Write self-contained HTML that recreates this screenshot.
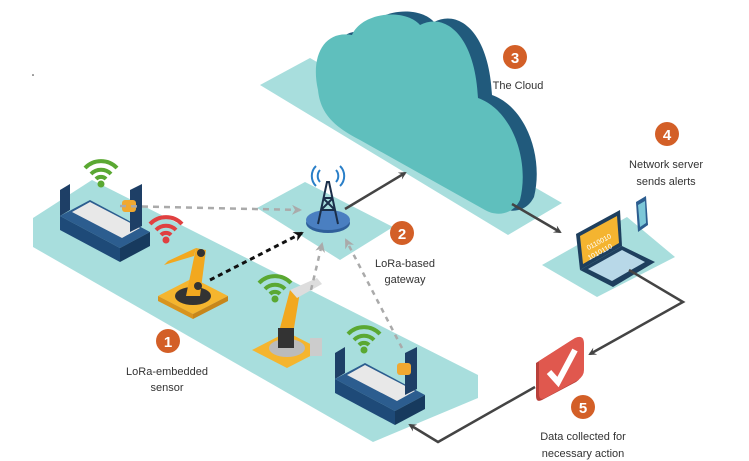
<!DOCTYPE html>
<html><head><meta charset="utf-8"><style>
html,body{margin:0;padding:0;background:#fff;}
svg{display:block}
text{font-family:"Liberation Sans",sans-serif;fill:#333;font-size:11px;text-anchor:middle}
.n{fill:#fff;font-size:15px;font-weight:bold}
</style></head><body>
<svg width="749" height="461" viewBox="0 0 749 461" xmlns="http://www.w3.org/2000/svg">
<defs>
<marker id="ad" markerWidth="8" markerHeight="8" refX="6" refY="4" orient="auto" markerUnits="userSpaceOnUse"><path d="M0,0 L8,4 L0,8 L3,4Z" fill="#444"/></marker>
<marker id="ag" markerWidth="10" markerHeight="10" refX="8" refY="5" orient="auto" markerUnits="userSpaceOnUse"><path d="M0,0 L10,5 L0,10 L3,5Z" fill="#aaa"/></marker>
<marker id="ab" markerWidth="10" markerHeight="10" refX="8" refY="5" orient="auto" markerUnits="userSpaceOnUse"><path d="M0,0 L10,5 L0,10 L3,5Z" fill="#111"/></marker>
<g id="wifi"><path d="M-16,-4 A22,22 0 0 1 16,-4" fill="none" stroke-width="4"/><path d="M-10,2 A14,14 0 0 1 10,2" fill="none" stroke-width="4"/><path d="M-5,7 A7,7 0 0 1 5,7" fill="none" stroke-width="4"/><circle cx="0" cy="12" r="3"/></g>
<g id="conv">
<polygon points="0,20 10,14 10,40 0,46" fill="#1e3f66"/>
<polygon points="0,46 60,78 90,62 30,30" fill="#2c5d8f"/>
<polygon points="0,46 60,78 60,92 0,60" fill="#1e4a78"/>
<polygon points="60,78 90,62 90,76 60,92" fill="#173a5e"/>
<polygon points="12,42 62,68 80,58 30,32" fill="#e8e8e8"/>
<polygon points="70,20 82,14 82,56 70,62" fill="#1e3f66"/>
<rect x="62" y="30" width="14" height="12" rx="3" fill="#f0a830"/>
</g>
<g id="robot">
<polygon points="0,30 35,48 70,30 35,12" fill="#f5b52e"/>
<polygon points="0,30 35,48 35,53 0,35" fill="#d8941e"/>
<polygon points="35,48 70,30 70,35 35,53" fill="#c7861a"/>
<ellipse cx="35" cy="30" rx="18" ry="9" fill="#333"/>
<path d="M28,30 L38,-18 L48,-16 L42,30Z" fill="#f2a81f"/>
<path d="M38,-18 L10,-5 L6,-1 L36,-10Z" fill="#f2a81f"/>
<circle cx="43" cy="-13" r="4" fill="#333"/>
<circle cx="40" cy="20" r="4" fill="#333"/>
</g>
</defs>

<circle cx="33" cy="75" r="0.8" fill="#333"/>
<polygon points="33,218 92,180 478,375 478,398 373,442 33,247" fill="#a8dedd"/>
<polygon points="257,208 305,182 393,227 340,260" fill="#a8dedd"/>
<polygon points="260,85 310,58 562,203 508,235" fill="#a8dedd"/>
<polygon points="542,265 627,217 675,257 597,297" fill="#a8dedd"/>

<g transform="translate(14,-3)"><path d="M318,90 C310,55 325,30 352,35 C362,12 405,8 420,25 C445,12 475,35 478,98 C512,110 530,160 520,200 C512,216 495,216 485,210 L360,140 C330,125 320,110 318,90Z" fill="#215a7c"/></g>
<path d="M318,90 C310,55 325,30 352,35 C362,12 405,8 420,25 C445,12 475,35 478,98 C512,110 530,160 520,200 C512,216 495,216 485,210 L360,140 C330,125 320,110 318,90Z" fill="#5fbfbd"/>

<use href="#conv" transform="translate(60,170)"/>
<use href="#conv" transform="translate(335,333)"/>
<use href="#robot" transform="translate(158,266)"/>
<g transform="translate(252,320)">
<polygon points="0,30 35,48 70,30 35,12" fill="#f5b52e"/>
<ellipse cx="35" cy="28" rx="18" ry="9" fill="#bbb"/>
<rect x="26" y="8" width="16" height="20" fill="#333"/>
<path d="M28,8 L38,-30 L48,-28 L42,8Z" fill="#f2a81f"/>
<path d="M38,-30 L65,-42 L70,-36 L45,-22Z" fill="#ddd"/>
<rect x="58" y="18" width="12" height="18" fill="#ccc"/>
</g>
<use href="#wifi" fill="#5aa832" stroke="#5aa832" transform="translate(101,172)"/>
<use href="#wifi" fill="#e04040" stroke="#e04040" transform="translate(166,228)"/>
<use href="#wifi" fill="#5aa832" stroke="#5aa832" transform="translate(275,287)"/>
<use href="#wifi" fill="#5aa832" stroke="#5aa832" transform="translate(364,338)"/>

<ellipse cx="328" cy="223" rx="22" ry="10" fill="#2f5f9a"/>
<ellipse cx="328" cy="220" rx="22" ry="10" fill="#4a7fc1"/>
<path d="M318,224 L327,182 L329,182 L338,224 M321,210 L335,210 M323,198 L333,198 M321,210 L333,198 M335,210 L323,198" stroke="#1b2f4a" stroke-width="2" fill="none"/>
<path d="M320,182 A9,9 0 0 1 320,170 M336,182 A9,9 0 0 0 336,170 M316,186 A14,14 0 0 1 316,166 M340,186 A14,14 0 0 0 340,166" stroke="#2a7fc8" stroke-width="2" fill="none"/>

<polygon points="576,234 620,210 622,246 580,270" fill="#1e3f5e"/>
<polygon points="580,236 617,216 619,243 583,264" fill="#f4b430"/>
<text x="600" y="244" style="font-size:7px;fill:#fff" transform="rotate(-28 600 244)">0110010</text>
<text x="601" y="254" style="font-size:7px;fill:#fff" transform="rotate(-28 601 254)">1010110</text>
<polygon points="580,270 622,246 655,262 613,287" fill="#1e3f5e"/>
<polygon points="588,269 622,250 645,262 612,281" fill="#b8d8e8"/>
<polygon points="636,202 646,196 648,225 638,232" fill="#2c5d8f"/>
<polygon points="638,205 645,201 646,223 640,227" fill="#7cc7d8"/>

<path d="M120,206 L300,210" stroke="#aaa" stroke-width="2.5" stroke-dasharray="6,5" fill="none" marker-end="url(#ag)"/>
<path d="M210,280 L302,233" stroke="#111" stroke-width="3" stroke-dasharray="5,4" fill="none" marker-end="url(#ab)"/>
<path d="M311,290 L322,244" stroke="#aaa" stroke-width="2.5" stroke-dasharray="5,5" fill="none" marker-end="url(#ag)"/>
<path d="M402,348 L346,240" stroke="#aaa" stroke-width="2.5" stroke-dasharray="5,5" fill="none" marker-end="url(#ag)"/>
<path d="M345,209 L405,173" stroke="#444" stroke-width="2.5" fill="none" marker-end="url(#ad)"/>
<path d="M512,204 L560,232" stroke="#444" stroke-width="2.5" fill="none" marker-end="url(#ad)"/>
<path d="M629,270 L683,302 L590,354" stroke="#444" stroke-width="2.5" fill="none" marker-end="url(#ad)"/>
<path d="M535,387 L438,442 L410,425" stroke="#444" stroke-width="2.5" fill="none" marker-end="url(#ad)"/>

<path d="M536,363 L572,340 Q582,336 582,346 L582,372 Q582,378 576,382 L542,400 Q536,403 536,396Z" fill="#b8403a"/>
<path d="M539,361 L575,338 Q584,334 584,344 L584,370 Q584,376 578,380 L545,398 Q539,401 539,394Z" fill="#e0584e"/>
<path d="M549,372 L558,382 L575,350" stroke="#fff" stroke-width="6" fill="none"/>

<g fill="#d35f27"><circle cx="168" cy="341" r="12"/><circle cx="402" cy="233" r="12"/><circle cx="515" cy="57" r="12"/><circle cx="667" cy="134" r="12"/><circle cx="583" cy="407" r="12"/></g>
<text class="n" x="168" y="347">1</text><text class="n" x="402" y="239">2</text><text class="n" x="515" y="63">3</text><text class="n" x="667" y="140">4</text><text class="n" x="583" y="413">5</text>

<text x="167" y="375">LoRa-embedded</text><text x="167" y="391">sensor</text>
<text x="405" y="267">LoRa-based</text><text x="405" y="283">gateway</text>
<text x="518" y="89">The Cloud</text>
<text x="666" y="168">Network server</text><text x="666" y="185">sends alerts</text>
<text x="583" y="440">Data collected for</text><text x="583" y="457">necessary action</text>
</svg>
</body></html>
